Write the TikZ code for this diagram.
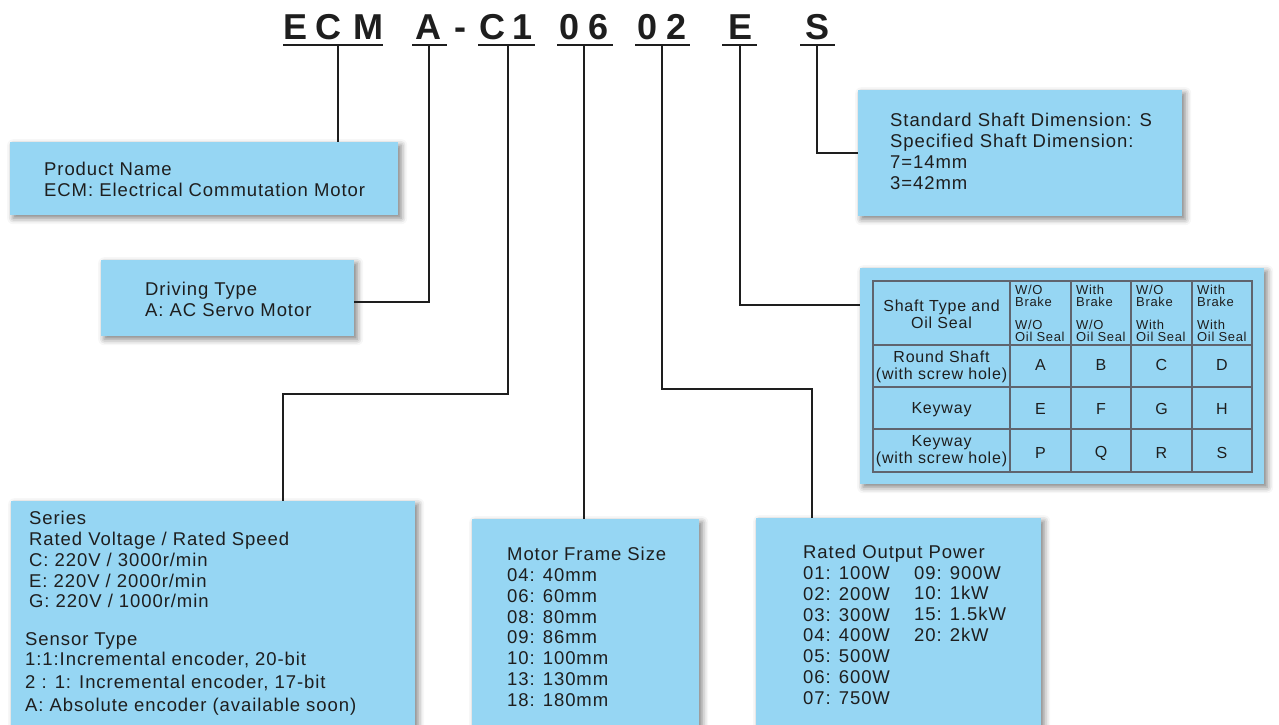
\documentclass[tikz,border=0pt]{standalone}
\usepackage{fontspec}
\setmainfont{Liberation Sans}
\newfontfamily\boxfont[LetterSpace=5]{Liberation Sans}
\usetikzlibrary{shadows.blur}
\definecolor{boxblue}{RGB}{150,214,243}
\definecolor{inkgray}{RGB}{30,30,30}
\definecolor{gridgray}{RGB}{95,100,110}
\newcommand{\wo}{W/O}
\newcommand{\fs}[2]{\fontsize{#1}{#2}\selectfont}

\begin{document}
\begin{tikzpicture}[x=1pt, y=-1pt,
    infobox/.style={rectangle, fill=boxblue, anchor=north west, inner sep=0pt,
      blur shadow={shadow xshift=3pt, shadow yshift=-3pt, shadow blur radius=6pt, shadow opacity=50}},
    boxtext/.style={anchor=north west, inner sep=0pt, align=left, text=inkgray, font=\boxfont\fs{18.5}{20.8}},
    codechar/.style={anchor=base, inner sep=0pt, text=inkgray, font=\bfseries\fs{36}{40}},
    codeline/.style={line width=2pt, draw=inkgray},
    lead/.style={line width=1.8pt, draw=inkgray},
    grid line/.style={line width=1.5pt, draw=gridgray, line cap=rect},
    cell/.style={inner sep=0pt, text=inkgray, font=\boxfont\fs{16}{16.5}, align=center},
    headcell/.style={anchor=north west, inner sep=0pt, align=left, text=inkgray, font=\boxfont\fs{13}{12.5}}]
  \useasboundingbox (0,0) rectangle (1279,724);

  % model code
  \foreach \ch/\cx [count=\i] in {E/296, C/328, M/368, A/428, -/460, C/492, 1/523,
      0/570, 6/599, 0/648, 2/677, E/740, S/817}
    \node[codechar] (ch\i) at (\cx,39) {\ch};
  \foreach \xa/\xb/\tx/\name in {283/383/338/ecm, 412/447/429/a, 478/535/508/c,
      557/613/584/fr, 635/690/662/pw, 722/757/740/sh, 800/835/817/dm} {
    \draw[codeline] (\xa,45) -- (\xb,45);
    \coordinate (t\name) at (\tx,45);
  }

  % boxes
  \node[infobox, minimum width=388pt, minimum height=73pt] (prodbox) at (10,142) {};
  \node[infobox, minimum width=253pt, minimum height=76pt] (drivebox) at (101,260) {};
  \node[infobox, minimum width=404pt, minimum height=230pt] (seriesbox) at (11,501) {};
  \node[infobox, minimum width=227pt, minimum height=210pt] (framebox) at (472,519) {};
  \node[infobox, minimum width=285pt, minimum height=210pt] (powerbox) at (756,518) {};
  \node[infobox, minimum width=404pt, minimum height=216pt] (shaftbox) at (860,268) {};
  \node[infobox, minimum width=324pt, minimum height=126pt] (dimbox) at (858,90) {};

  % leads
  \coordinate (bendc) at (283,394);
  \coordinate (bendpw) at (812,389);
  \coordinate (bendsh) at (740,305);
  \draw[lead] (tecm) -- (prodbox.north -| tecm);
  \draw[lead] (ta) |- ([yshift=-4pt]drivebox.east);
  \draw[lead] (tc) |- (bendc) -- (seriesbox.north -| bendc);
  \draw[lead] (tfr) -- (framebox.north -| tfr);
  \draw[lead] (tpw) |- (bendpw) -- (powerbox.north -| bendpw);
  \draw[lead] (tsh) |- (shaftbox.west |- bendsh);
  \draw[lead] (tdm) |- (dimbox.west);

  % box texts
  \node[boxtext] (prodtext) at (44,162) {Product Name\\ECM: Electrical Commutation Motor};
  \node[boxtext] (drivetext) at (145,282) {Driving Type\\A: AC Servo Motor};
  \node[boxtext] (seriestext) at (29,511) {Series\\Rated Voltage / Rated Speed\\C: 220V / 3000r/min\\E: 220V / 2000r/min\\G: 220V / 1000r/min};
  \node[boxtext] (sensortext) at (25,632) {Sensor Type\\1:1:Incremental encoder, 20-bit\\[2pt]2 : 1: Incremental encoder, 17-bit\\[2pt]A: Absolute encoder (available soon)};
  \node[boxtext] (frametext) at (507,547) {Motor Frame Size\\04: 40mm\\06: 60mm\\08: 80mm\\09: 86mm\\10: 100mm\\13: 130mm\\18: 180mm};
  \node[boxtext] (powertext) at (803,545) {Rated Output Power\\01: 100W\\02: 200W\\03: 300W\\04: 400W\\05: 500W\\06: 600W\\07: 750W};
  \node[boxtext] (powertextb) at (914,566) {09: 900W\\10: 1kW\\15: 1.5kW\\20: 2kW};
  \node[boxtext] (dimtext) at (890,113) {Standard Shaft Dimension: S\\Specified Shaft Dimension:\\7=14mm\\3=42mm};

  % shaft table
  \foreach \gx in {873,1010,1071,1131,1192,1252}
    \draw[grid line] (\gx,281) -- (\gx,472);
  \foreach \gy in {281,345,387,429,472}
    \draw[grid line] (873,\gy) -- (1252,\gy);
  \node[cell, anchor=north] (headlabel) at (941.5,300) {Shaft Type and\\Oil Seal};
  \foreach \up/\lo/\cx [count=\i] in {\wo/\wo/1015, With/\wo/1076, \wo/With/1136, With/With/1197} {
    \node[headcell] (brake\i) at (\cx,284.5) {\up\\Brake};
    \node[headcell] (seal\i) at (\cx,319.5) {\lo\\Oil Seal};
  }
  \node[cell, anchor=north] (rowround) at (941.5,351) {Round Shaft\\(with screw hole)};
  \node[cell, anchor=north] (rowkey) at (941.5,402.5) {Keyway};
  \node[cell, anchor=north] (rowkeyscrew) at (941.5,435.5) {Keyway\\(with screw hole)};
  \foreach \ra/\rb/\rc/\rd/\ry [count=\r] in {A/B/C/D/365, E/F/G/H/409, P/Q/R/S/453} {
    \foreach \ch/\cx [count=\c] in {\ra/1040.5, \rb/1101, \rc/1161.5, \rd/1222}
      \node[cell] (code\r\c) at (\cx,\ry) {\ch};
  }
\end{tikzpicture}
\end{document}
